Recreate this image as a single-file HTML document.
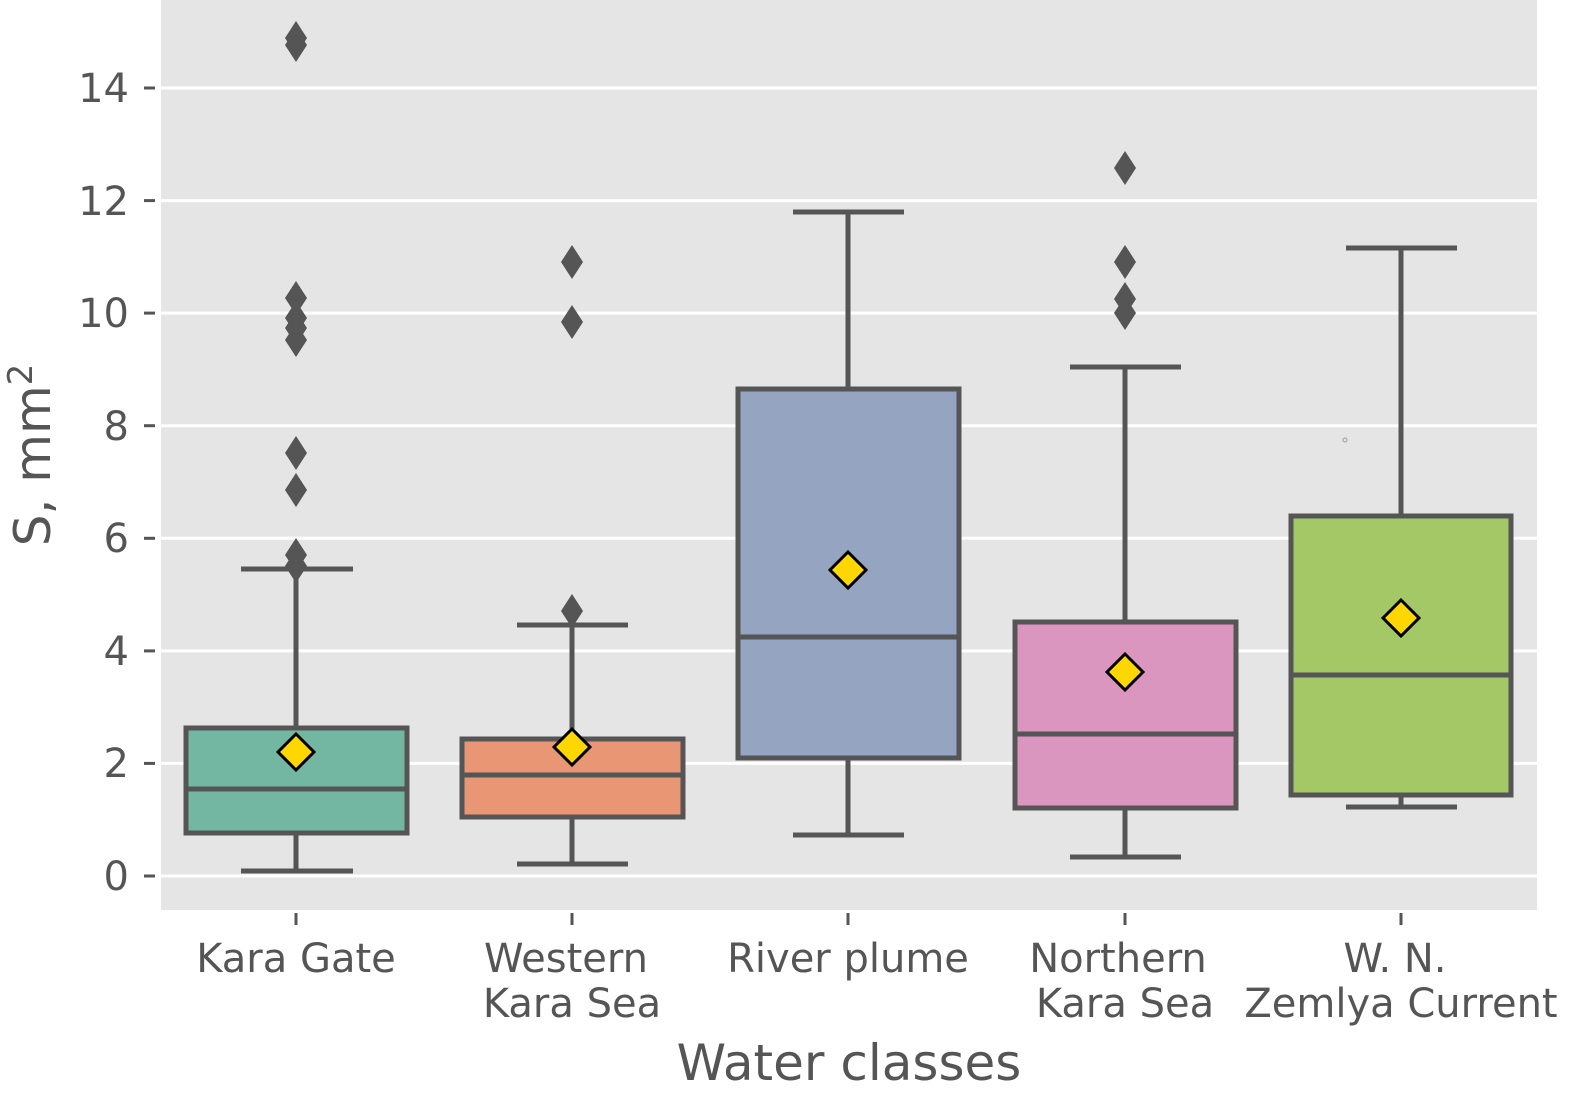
<!DOCTYPE html>
<html><head><style>body{margin:0;background:#fff}svg{display:block}text{font-family:"DejaVu Sans","Liberation Sans",sans-serif;fill:#555}</style></head>
<body>
<svg width="1584" height="1096" viewBox="0 0 1584 1096" xmlns="http://www.w3.org/2000/svg">
<rect x="161" y="0" width="1376" height="910" fill="#e5e5e5"/>
<g stroke="#fff" stroke-width="3">
<line x1="161" x2="1537" y1="876" y2="876"/><line x1="161" x2="1537" y1="763.4" y2="763.4"/>
<line x1="161" x2="1537" y1="650.9" y2="650.9"/><line x1="161" x2="1537" y1="538.3" y2="538.3"/>
<line x1="161" x2="1537" y1="425.7" y2="425.7"/><line x1="161" x2="1537" y1="313.1" y2="313.1"/>
<line x1="161" x2="1537" y1="200.6" y2="200.6"/><line x1="161" x2="1537" y1="88" y2="88"/>
</g>
<g stroke="#555" stroke-width="3">
<line x1="144" x2="155" y1="876" y2="876"/><line x1="144" x2="155" y1="763.4" y2="763.4"/>
<line x1="144" x2="155" y1="650.9" y2="650.9"/><line x1="144" x2="155" y1="538.3" y2="538.3"/>
<line x1="144" x2="155" y1="425.7" y2="425.7"/><line x1="144" x2="155" y1="313.1" y2="313.1"/>
<line x1="144" x2="155" y1="200.6" y2="200.6"/><line x1="144" x2="155" y1="88" y2="88"/>
<line x1="296" x2="296" y1="913" y2="925"/><line x1="572" x2="572" y1="913" y2="925"/>
<line x1="848" x2="848" y1="913" y2="925"/><line x1="1125" x2="1125" y1="913" y2="925"/>
<line x1="1401" x2="1401" y1="913" y2="925"/>
</g>
<g font-size="40" text-anchor="end">
<text x="129" y="890">0</text><text x="129" y="777">2</text><text x="129" y="665">4</text>
<text x="129" y="552">6</text><text x="129" y="440">8</text><text x="129" y="327">10</text>
<text x="129" y="215">12</text><text x="129" y="102">14</text>
</g>
<g font-size="40" text-anchor="middle">
<text x="296" y="972">Kara Gate</text>
<text x="566" y="972">Western</text><text x="572" y="1017">Kara Sea</text>
<text x="848" y="972">River plume</text>
<text x="1118" y="972">Northern</text><text x="1125" y="1017">Kara Sea</text>
<text x="1395" y="972">W. N.</text><text x="1401" y="1017">Zemlya Current</text>
</g>
<text x="849" y="1080" font-size="50" text-anchor="middle">Water classes</text>
<text transform="translate(50,455) rotate(-90)" font-size="50" text-anchor="middle">S, mm<tspan font-size="34" dy="-18">2</tspan></text>
<g stroke="#555" stroke-width="5">
<line x1="296" x2="296" y1="569" y2="728"/><line x1="296" x2="296" y1="833" y2="871"/>
<line x1="241" x2="353" y1="569" y2="569"/><line x1="241" x2="353" y1="871" y2="871"/>
<rect x="186" y="728" width="221" height="105" fill="#73b6a1"/><line x1="186" x2="407" y1="789" y2="789"/>
<line x1="572" x2="572" y1="625" y2="739"/><line x1="572" x2="572" y1="817" y2="864"/>
<line x1="517" x2="628" y1="625" y2="625"/><line x1="517" x2="628" y1="864" y2="864"/>
<rect x="462" y="739" width="221" height="78" fill="#e99675"/><line x1="462" x2="683" y1="775" y2="775"/>
<line x1="848" x2="848" y1="212" y2="389"/><line x1="848" x2="848" y1="758" y2="835"/>
<line x1="793" x2="904" y1="212" y2="212"/><line x1="793" x2="904" y1="835" y2="835"/>
<rect x="738" y="389" width="221" height="369" fill="#94a4c1"/><line x1="738" x2="959" y1="637" y2="637"/>
<line x1="1125" x2="1125" y1="367" y2="622"/><line x1="1125" x2="1125" y1="808" y2="857"/>
<line x1="1070" x2="1181" y1="367" y2="367"/><line x1="1070" x2="1181" y1="857" y2="857"/>
<rect x="1015" y="622" width="221" height="186" fill="#db96c0"/><line x1="1015" x2="1236" y1="734" y2="734"/>
<line x1="1401" x2="1401" y1="248" y2="516"/><line x1="1401" x2="1401" y1="795" y2="807"/>
<line x1="1346" x2="1457" y1="248" y2="248"/><line x1="1346" x2="1457" y1="807" y2="807"/>
<rect x="1291" y="516" width="220" height="279" fill="#a3c865"/><line x1="1291" x2="1511" y1="675" y2="675"/>
</g>
<circle cx="1345" cy="440" r="2" fill="none" stroke="#999" stroke-width="1"/>
<g fill="#555">
<path d="M0,-17 L11,0 L0,17 L-11,0Z" transform="translate(296,38)"/>
<path d="M0,-17 L11,0 L0,17 L-11,0Z" transform="translate(296,45)"/>
<path d="M0,-17 L11,0 L0,17 L-11,0Z" transform="translate(296,298)"/>
<path d="M0,-17 L11,0 L0,17 L-11,0Z" transform="translate(296,318)"/>
<path d="M0,-17 L11,0 L0,17 L-11,0Z" transform="translate(296,328)"/>
<path d="M0,-17 L11,0 L0,17 L-11,0Z" transform="translate(296,340)"/>
<path d="M0,-17 L11,0 L0,17 L-11,0Z" transform="translate(296,453)"/>
<path d="M0,-17 L11,0 L0,17 L-11,0Z" transform="translate(296,490)"/>
<path d="M0,-17 L11,0 L0,17 L-11,0Z" transform="translate(296,555)"/>
<path d="M0,-17 L11,0 L0,17 L-11,0Z" transform="translate(296,566)"/>
<path d="M0,-17 L11,0 L0,17 L-11,0Z" transform="translate(572,262)"/>
<path d="M0,-17 L11,0 L0,17 L-11,0Z" transform="translate(572,322)"/>
<path d="M0,-17 L11,0 L0,17 L-11,0Z" transform="translate(572,611)"/>
<path d="M0,-17 L11,0 L0,17 L-11,0Z" transform="translate(1125,168)"/>
<path d="M0,-17 L11,0 L0,17 L-11,0Z" transform="translate(1125,262)"/>
<path d="M0,-17 L11,0 L0,17 L-11,0Z" transform="translate(1125,299)"/>
<path d="M0,-17 L11,0 L0,17 L-11,0Z" transform="translate(1125,313)"/>
</g>
<g fill="#ffd700" stroke="#000" stroke-width="3">
<path d="M0,-18 L18,0 L0,18 L-18,0Z" transform="translate(296,752)"/>
<path d="M0,-18 L18,0 L0,18 L-18,0Z" transform="translate(572,747)"/>
<path d="M0,-18 L18,0 L0,18 L-18,0Z" transform="translate(848,570)"/>
<path d="M0,-18 L18,0 L0,18 L-18,0Z" transform="translate(1125,672)"/>
<path d="M0,-18 L18,0 L0,18 L-18,0Z" transform="translate(1401,618)"/>
</g>
</svg>
</body></html>
